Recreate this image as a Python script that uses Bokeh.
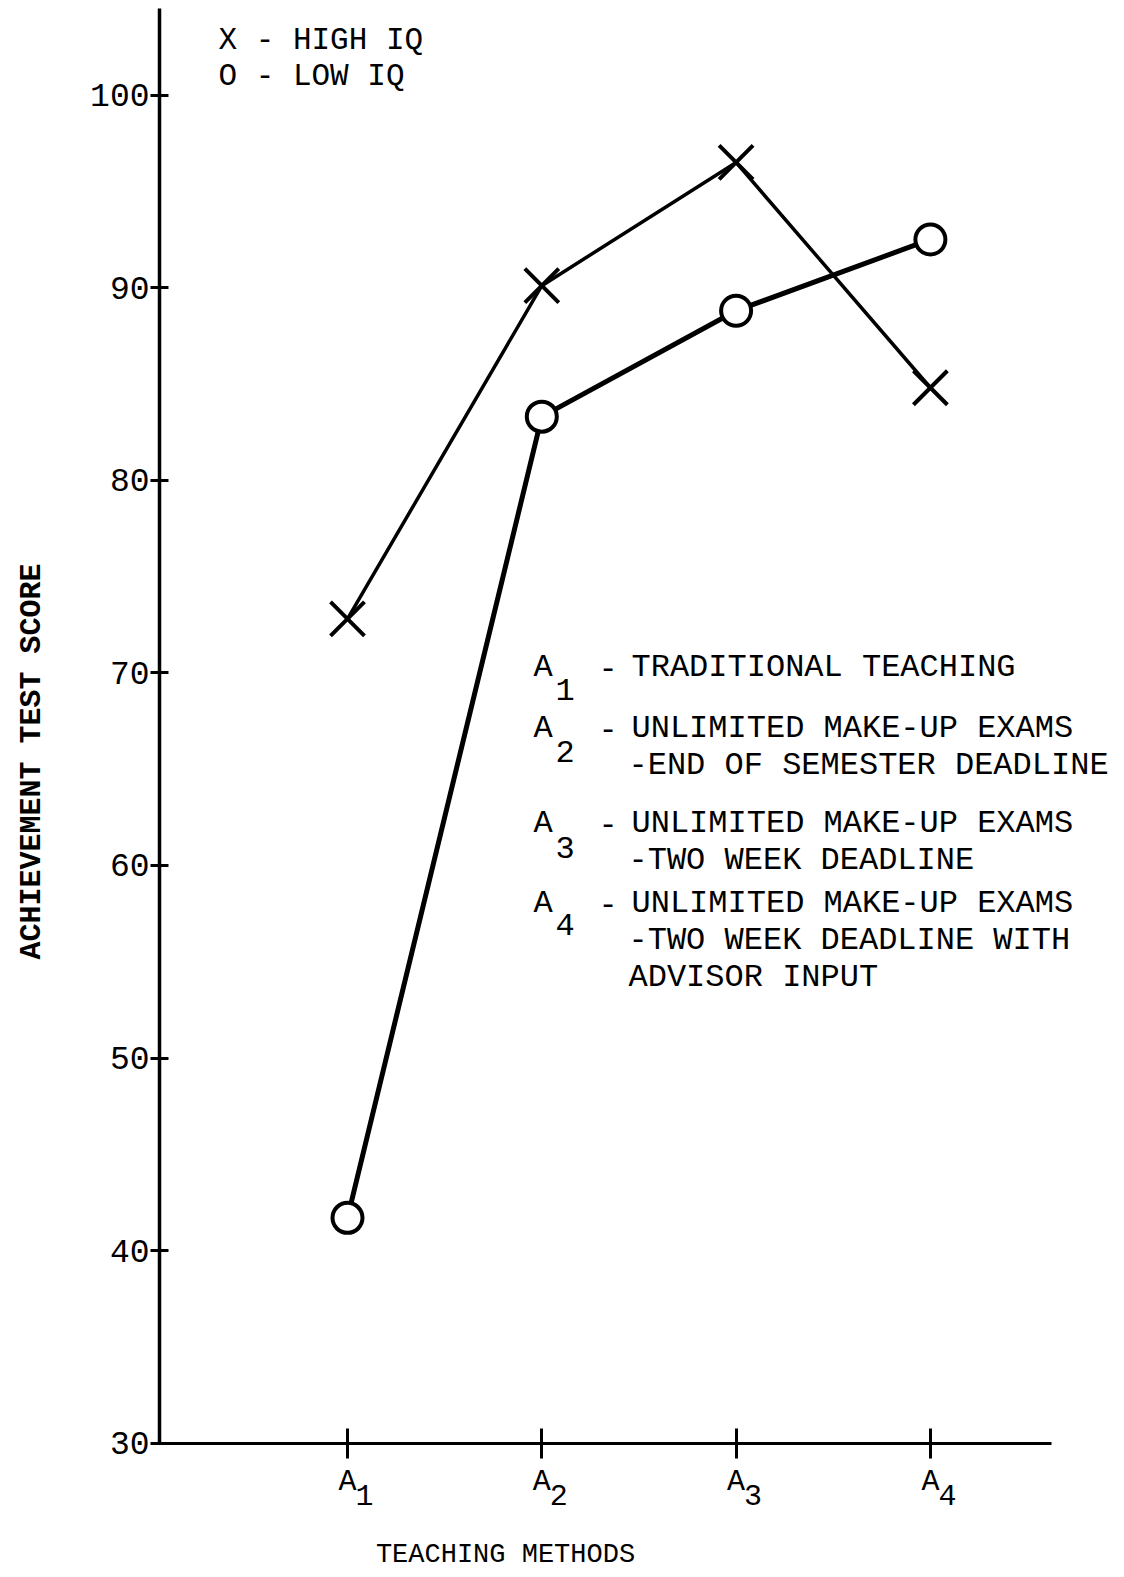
import math
from bokeh.plotting import figure
from bokeh.models import Label, Range1d, FixedTicker
from bokeh.embed import file_html
from bokeh.resources import INLINE

# ---- data ----
methods = ["A1", "A2", "A3", "A4"]
x_pos = [1, 2, 3, 4]
high_iq = [72.8, 90.1, 96.5, 84.8]
low_iq = [41.7, 83.3, 88.8, 92.5]
y_ticks = [30, 40, 50, 60, 70, 80, 90, 100]
legend_iq = ["X - HIGH IQ", "O - LOW IQ"]
legend_methods = [
    ["TRADITIONAL TEACHING"],
    ["UNLIMITED MAKE-UP EXAMS", "-END OF SEMESTER DEADLINE"],
    ["UNLIMITED MAKE-UP EXAMS", "-TWO WEEK DEADLINE"],
    ["UNLIMITED MAKE-UP EXAMS", "-TWO WEEK DEADLINE WITH", "ADVISOR INPUT"],
]
x_title = "TEACHING METHODS"
y_title = "ACHIEVEMENT TEST SCORE"

FONT = "Liberation Mono"

# page-pixel geometry helpers (the canvas starts at the page's top-left)
X1_PX, XSTEP = 347.0, 194.3
Y30_PX, YSTEP = 1442.7, 19.26


def dx(px):
    return 1 + (px - X1_PX) / XSTEP


def dy(py):
    return 30 + (Y30_PX - py) / YSTEP


W, H = 1116, 1570
p = figure(width=W, height=H, output_backend="svg", toolbar_location=None,
           x_range=Range1d(dx(0), dx(W)), y_range=Range1d(dy(H), dy(0)),
           min_border_left=0, min_border_right=0, min_border_top=0,
           min_border_bottom=0)
p.outline_line_color = None
p.xgrid.visible = False
p.ygrid.visible = False
p.background_fill_color = "white"

# y axis
p.yaxis.fixed_location = dx(159)
p.yaxis.bounds = (30, dy(8))
p.yaxis.ticker = FixedTicker(ticks=y_ticks)
p.yaxis.minor_tick_line_color = None
p.yaxis.axis_line_width = 3.5
p.yaxis.major_tick_line_width = 3
p.yaxis.major_tick_in = 9
p.yaxis.major_tick_out = 9
p.yaxis.major_label_standoff = 1
p.yaxis.major_label_text_font = FONT
p.yaxis.major_label_text_font_size = "33px"
p.yaxis.major_label_text_color = "black"
p.yaxis.axis_line_color = "black"
p.yaxis.major_tick_line_color = "black"

# x axis
p.xaxis.fixed_location = 30
p.xaxis.bounds = (dx(155), dx(1051))
p.xaxis.ticker = FixedTicker(ticks=x_pos)
p.xaxis.major_label_overrides = {x: m[0] for x, m in zip(x_pos, methods)}
p.xaxis.minor_tick_line_color = None
p.xaxis.axis_line_width = 3
p.xaxis.major_tick_line_width = 3
p.xaxis.major_tick_in = 15
p.xaxis.major_tick_out = 15
p.xaxis.major_label_standoff = 7
p.xaxis.major_label_text_font = FONT
p.xaxis.major_label_text_font_size = "30px"
p.xaxis.major_label_text_color = "black"
p.xaxis.axis_line_color = "black"
p.xaxis.major_tick_line_color = "black"

# series
p.line(x_pos, high_iq, line_color="black", line_width=3.5)
p.line(x_pos, low_iq, line_color="black", line_width=5)
p.scatter(x_pos, high_iq, marker="x", size=48, line_color="black", line_width=4)
p.scatter(x_pos, low_iq, marker="circle", size=30, line_color="black",
          line_width=4, fill_color="white")


def lab(text, px, py, size, align="left", baseline="alphabetic", angle=0.0, style="normal"):
    p.add_layout(Label(x=dx(px), y=dy(py), text=text, text_font=FONT,
                       text_font_size=size, text_align=align, text_baseline=baseline,
                       angle=angle, text_color="black", text_font_style=style))


# subscripts of x tick labels
for xi, m in zip(x_pos, methods):
    tick_px = X1_PX + (xi - 1) * XSTEP
    lab(m[1:], tick_px + 8, 1494, "30px")

# IQ legend
lab(legend_iq[0], 218, 40, "31px")
lab(legend_iq[1], 218, 76, "31px")

# method legend
row_base = [667, 728, 823, 903]
sub_off = [22, 23, 24, 21]
line_gap = 37
for i, (m, lines) in enumerate(zip(methods, legend_methods)):
    b = row_base[i]
    lab(m[0], 533, b, "32px")
    lab(m[1:], 555, b + sub_off[i], "32px")
    lab("-", 598, b, "32px")
    lab(lines[0], 631, b, "32px")
    for j, t in enumerate(lines[1:]):
        lab(t, 628, b + line_gap * (j + 1), "32px")

# axis titles
lab(x_title, 505, 1554, "27px", align="center", baseline="middle")
lab(y_title, 31, 761, "30px", align="center", baseline="middle",
    angle=math.pi / 2, style="bold")

open("out.html", "w").write(file_html(p, INLINE))
